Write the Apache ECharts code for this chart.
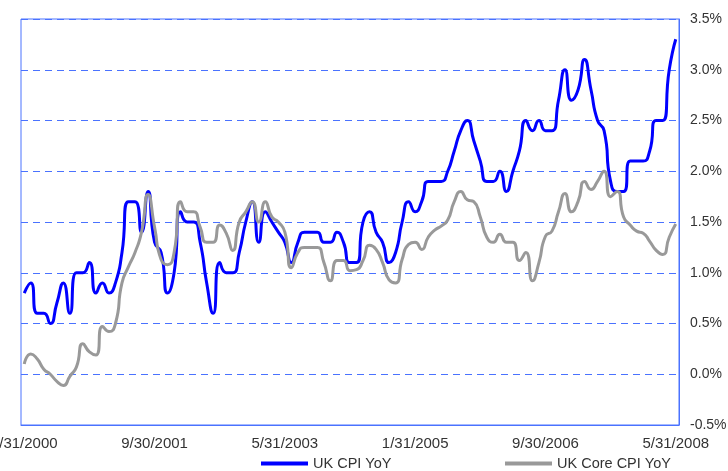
<!DOCTYPE html>
<html>
<head>
<meta charset="utf-8">
<title>UK CPI YoY</title>
<script src="https://cdn.jsdelivr.net/npm/echarts@6/dist/echarts.min.js"></script>
<style>
html, body { margin: 0; padding: 0; background: #fff; }
#main { width: 728px; height: 471px; }
</style>
</head>
<body>
<div id="main"></div>
<script>
// month-end dates, Jan 2000 .. May 2008
const startYear = 2000;
const monthCount = 101;
const dates = [];
for (let i = 0; i < monthCount; i++) {
  let y = startYear + Math.floor(i / 12), m = i % 12 + 1;
  let d = new Date(y, m, 0).getDate();
  dates.push(m + '/' + d + '/' + y);
}

const seriesNames = ['UK CPI YoY', 'UK Core CPI YoY'];

// UK CPI YoY, %
const cpi = [
  0.8, 0.9, 0.6, 0.6, 0.5, 0.7, 0.9, 0.6, 1.0, 1.0, 1.1, 0.8,
  0.9, 0.8, 0.9, 1.2, 1.7, 1.7, 1.4, 1.8, 1.3, 1.2, 0.8, 1.0,
  1.6, 1.5, 1.5, 1.3, 0.9, 0.6, 1.1, 1.0, 1.0, 1.2, 1.5, 1.7,
  1.3, 1.6, 1.5, 1.4, 1.3, 1.1, 1.3, 1.4, 1.4, 1.4, 1.3, 1.3,
  1.4, 1.3, 1.1, 1.1, 1.5, 1.6, 1.4, 1.3, 1.1, 1.2, 1.5, 1.7,
  1.6, 1.7, 1.9, 1.9, 1.9, 2.0, 2.2, 2.4, 2.5, 2.3, 2.1, 1.9,
  1.9, 2.0, 1.8, 2.0, 2.2, 2.5, 2.4, 2.5, 2.4, 2.4, 2.7, 3.0,
  2.7, 2.8, 3.1, 2.8, 2.5, 2.4, 1.9, 1.8, 1.8, 2.1, 2.1, 2.1,
  2.2, 2.5, 2.5, 3.0, 3.3
];

// UK Core CPI YoY, %
const coreCpi = [
  0.1, 0.2, 0.15, 0.05, 0.0, -0.07, -0.11, -0.02, 0.07, 0.3, 0.22, 0.19,
  0.47, 0.42, 0.5, 0.9, 1.06, 1.2, 1.4, 1.77, 1.45, 1.13, 1.08, 1.2,
  1.7, 1.6, 1.6, 1.45, 1.3, 1.3, 1.47, 1.39, 1.22, 1.5, 1.6, 1.7,
  1.5, 1.7, 1.55, 1.5, 1.4, 1.05, 1.2, 1.25, 1.25, 1.25, 1.1, 0.92,
  1.12, 1.12, 1.02, 1.03, 1.12, 1.27, 1.23, 1.1, 0.93, 0.9, 1.13, 1.28,
  1.3, 1.23, 1.35, 1.42, 1.46, 1.52, 1.7, 1.8, 1.72, 1.7, 1.55, 1.35,
  1.3, 1.38, 1.3, 1.3, 1.12, 1.2, 0.92, 1.1, 1.36, 1.41, 1.6, 1.78,
  1.6, 1.7, 1.9, 1.82, 1.9, 2.0, 1.75, 1.8, 1.55, 1.47, 1.41, 1.39,
  1.31, 1.22, 1.18, 1.35, 1.48
];

const yMin = -0.5, yMax = 3.5, yStep = 0.5;

const axisBlue = '#4a72ff';
const textColor = '#333';
const font = 'Liberation Sans, Arial, sans-serif';

let myChart = echarts.init(document.getElementById('main'));

let legendCommon = {
  icon: 'rect',
  itemWidth: 47,
  itemHeight: 4,
  padding: 0,
  top: 456,
  textStyle: { fontSize: 14.5, color: textColor, fontFamily: font }
};

var option = {
  animation: false,
  textStyle: { fontFamily: font },
  grid: {
    left: 21, right: 49, top: 19, bottom: 46,
    outerBoundsMode: 'none',
    containLabel: false,
    show: true,
    borderColor: axisBlue,
    borderWidth: 1
  },
  legend: [
    Object.assign({ data: [seriesNames[0]], left: 261 }, legendCommon),
    Object.assign({ data: [seriesNames[1]], left: 505 }, legendCommon)
  ],
  xAxis: {
    type: 'category',
    data: dates,
    boundaryGap: true,
    axisLine: { onZero: false, lineStyle: { color: axisBlue } },
    axisTick: {
      length: 5,
      interval: (i) => i % 15 === 11,
      lineStyle: { color: axisBlue }
    },
    axisLabel: {
      interval: 19,
      fontSize: 15,
      color: textColor,
      margin: 11
    },
    splitLine: { show: false }
  },
  yAxis: {
    type: 'value',
    position: 'right',
    min: yMin,
    max: yMax,
    interval: yStep,
    axisLine: { show: true, lineStyle: { color: axisBlue } },
    axisTick: { show: false },
    axisLabel: {
      formatter: (v) => v.toFixed(1) + '%',
      fontSize: 14,
      color: textColor,
      margin: 11
    },
    splitLine: { lineStyle: { color: axisBlue, type: [7, 5] } }
  },
  series: [
    {
      name: seriesNames[0],
      type: 'line',
      data: cpi,
      smooth: 0.6,
      symbol: 'none',
      lineStyle: { color: '#0000ff', width: 3 },
      itemStyle: { color: '#0000ff' }
    },
    {
      name: seriesNames[1],
      type: 'line',
      data: coreCpi,
      smooth: 0.6,
      symbol: 'none',
      lineStyle: { color: '#999999', width: 3 },
      itemStyle: { color: '#999999' }
    }
  ]
};

myChart.setOption(option);
</script>
</body>
</html>
